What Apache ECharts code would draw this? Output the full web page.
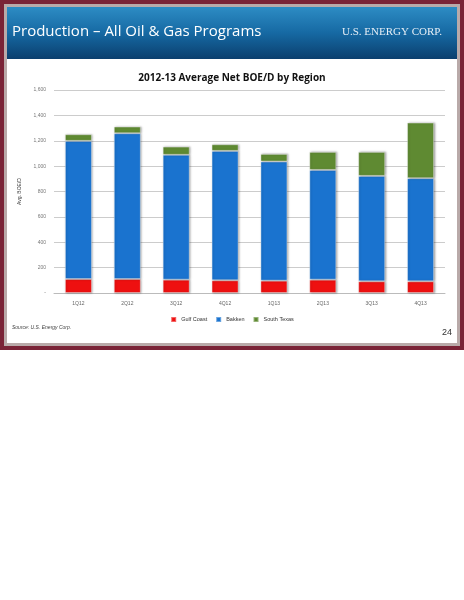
<!DOCTYPE html>
<html><head><meta charset="utf-8">
<script src="https://cdn.jsdelivr.net/npm/echarts@6/dist/echarts.min.js"></script>
<style>html,body{margin:0;padding:0;background:#fff}#c{width:464px;height:600px}</style>
</head><body><div id="c"></div>
<script>
const categories = ['1Q12','2Q12','3Q12','4Q12','1Q13','2Q13','3Q13','4Q13'];
const gulfCoast = [110,110,105,100,97,105,92,92];
const bakken = [1089,1149,984,1020,939,865,831,813];
const southTexas = [52,53,65,52,60,142,189,438];
const yTicks = [0,200,400,600,800,1000,1200,1400,1600];

const chart = echarts.init(document.getElementById('c'));
const itemStyle = (c) => ({color:c, borderColor:'rgba(255,255,255,0.35)', borderWidth:1, shadowColor:'rgba(0,0,0,0.35)', shadowBlur:2, shadowOffsetX:1, shadowOffsetY:0});
chart.setOption({
  animation:false,
  graphic:[
    {type:'rect',shape:{x:0,y:0,width:464,height:350},style:{fill:'#7a2336'}},
    {type:'rect',shape:{x:4,y:4,width:456,height:342},style:{fill:'#b9aaa9'}},
    {type:'rect',shape:{x:7,y:7,width:450,height:336},style:{fill:'#ffffff'}},
    {type:'rect',shape:{x:7,y:7,width:450,height:52},style:{fill:{type:'linear',x:0,y:0,x2:0,y2:1,colorStops:[{offset:0,color:'#2d8cc4'},{offset:0.5,color:'#1669a3'},{offset:1,color:'#0b3f6e'}]}}},
    {type:'text',left:12,top:24,style:{text:'Production – All Oil & Gas Programs',fill:'#ffffff',font:'15px "Open Sans", sans-serif'}},
    {type:'text',left:342,top:27,style:{text:'U.S. ENERGY CORP.',fill:'#e6eef5',font:'11px "Liberation Serif", serif'}},
    {type:'text',left:12,top:325,style:{text:'Source: U.S. Energy Corp.',fill:'#444',font:'italic 5px "Liberation Sans", sans-serif'}},
    {type:'text',left:442,top:328,style:{text:'24',fill:'#333',font:'9px "Liberation Sans", sans-serif'}}
  ],
  title:{text:'2012-13 Average Net BOE/D by Region',left:'center',top:68,textStyle:{fontSize:10,fontWeight:'bold',color:'#111',fontFamily:'"Open Sans", sans-serif'}},
  legend:{data:['Gulf Coast','Bakken','South Texas'],top:311,left:'center',itemWidth:5,itemHeight:5,itemGap:8,icon:'rect',textStyle:{fontSize:5.5,color:'#333'}},
  grid:{left:54,right:19,top:90,bottom:307,containLabel:false},
  xAxis:{type:'category',data:categories,axisTick:{show:false},axisLine:{lineStyle:{color:'#bbb'}},axisLabel:{fontSize:5,color:'#666',margin:8}},
  yAxis:{type:'value',min:0,max:1600,interval:200,name:'Avg. BOE/D',nameLocation:'middle',nameGap:26,nameTextStyle:{fontSize:5,color:'#333'},
    axisLabel:{fontSize:5,color:'#777',formatter:v=>v===0?'-':v.toLocaleString('en-US')},splitLine:{lineStyle:{color:'#ccc'}},axisLine:{show:false}},
  series:[
    {name:'Gulf Coast',type:'bar',stack:'a',data:gulfCoast,barWidth:27,itemStyle:itemStyle('#ee1010')},
    {name:'Bakken',type:'bar',stack:'a',data:bakken,itemStyle:itemStyle('#1a73cf')},
    {name:'South Texas',type:'bar',stack:'a',data:southTexas,itemStyle:itemStyle('#5f8a32')}
  ]
});
</script></body></html>
